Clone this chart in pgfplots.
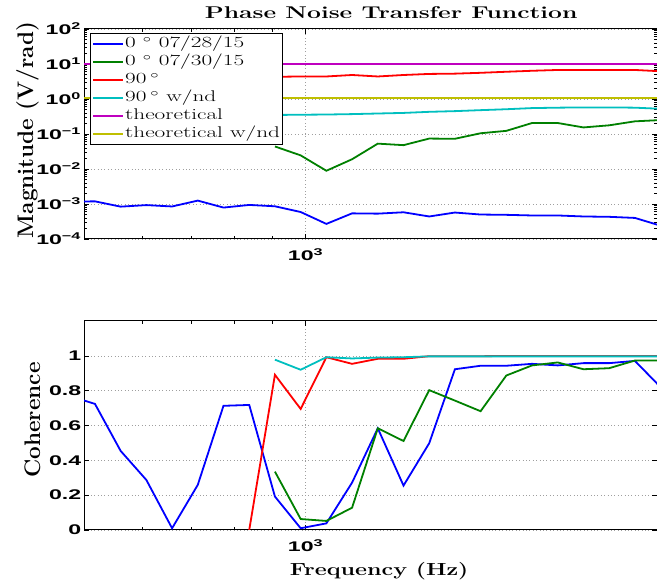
\documentclass[border=0pt]{standalone}
\usepackage{fontspec}
\usepackage{pgfplots}
\pgfplotsset{compat=1.18}
\newfontfamily\tickfont{Liberation Sans}
\definecolor{mblue}{rgb}{0,0,1}
\definecolor{mgreen}{rgb}{0,0.5,0}
\definecolor{mred}{rgb}{1,0,0}
\definecolor{mcyan}{rgb}{0,0.75,0.75}
\definecolor{mmag}{rgb}{0.75,0,0.75}
\definecolor{myel}{rgb}{0.75,0.75,0}

\pgfplotsset{
  mstyle/.style={
    scale only axis, width=573pt,
    xtick={1000}, xticklabels={10\textsuperscript{3}},
    minor xtick={600,700,800,900},
    grid=major,
    major grid style={dash pattern=on 0.8pt off 2.6pt, gray!75, line width=0.6pt},
    axis line style={line width=1pt},
    major tick length=5pt, minor tick length=3pt,
    every tick/.style={black, line width=0.6pt},
    every tick label/.append style={font=\tickfont\bfseries\fontsize{14}{14}\selectfont, xscale=1.65, inner sep=1.5pt},
    xticklabel style={yshift=-8pt},
    ylabel style={font=\bfseries\fontsize{22.5}{22.5}\selectfont, anchor=base},
  }
}

\begin{document}
\begin{tikzpicture}
\useasboundingbox (0,0) rectangle (657pt,586pt);

% magnitude
\begin{axis}[
  xmode=log, ymode=log, xmin=500, xmax=3000, ymin=1e-4, ymax=1e2,
  mstyle,
  at={(84pt,347pt)}, anchor=south west, height=210pt,
  ytick={1e-4,1e-3,1e-2,1e-1,1,1e1,1e2},
  yticklabels={10\textsuperscript{−4},10\textsuperscript{−3},10\textsuperscript{−2},10\textsuperscript{−1},10\textsuperscript{0},10\textsuperscript{1},10\textsuperscript{2}},
  title={Phase Noise Transfer Function},
  every axis title shift=0pt,
  title style={font=\bfseries\fontsize{17}{17}\selectfont, xscale=1.45, at={(axis description cs:0.536,1.05)}, anchor=base},
  ylabel={Magnitude (V/rad)},
  ylabel style={at={(axis description cs:-0.089,0.519)}},
  legend style={at={(axis description cs:0.0105,0.981)}, anchor=north west,
    draw=black, line width=0.9pt, fill=white, inner xsep=2pt, inner ysep=2.6pt,
    row sep=2.4pt, font=\fontsize{15.5}{15.5}\selectfont,
    nodes={xscale=1.5, inner sep=0.6pt, text height=10.8pt, text depth=3.6pt}},
  legend cell align=left,
  legend image code/.code={\draw[#1, line width=1.8pt] (0pt,0pt) -- (30pt,0pt);},
]
\addplot[mblue, line width=1.8pt] coordinates {
(477.5,1.17e-3) (517.4,1.19e-3) (560.7,8.4e-4) (607.7,9.3e-4) (658.5,8.5e-4)
(713.7,1.25e-3) (773.4,7.9e-4) (838.2,9.4e-4) (908.3,8.6e-4) (984.4,5.9e-4)
(1066.8,2.7e-4) (1156.1,5.4e-4) (1252.9,5.3e-4) (1357.8,5.8e-4) (1471.4,4.4e-4)
(1594.6,5.7e-4) (1728.1,5.0e-4) (1872.8,4.9e-4) (2029.6,4.7e-4) (2199.5,4.7e-4)
(2383.6,4.4e-4) (2583.2,4.3e-4) (2799.5,4.0e-4) (3033.8,2.4e-4)
};
\addplot[mgreen, line width=1.8pt] coordinates {
(908.3,0.044) (984.4,0.0245) (1066.8,0.0089) (1156.1,0.019) (1252.9,0.053)
(1357.8,0.048) (1471.4,0.074) (1594.6,0.073) (1728.1,0.105) (1872.8,0.123)
(2029.6,0.206) (2199.5,0.206) (2383.6,0.154) (2583.2,0.177) (2799.5,0.23)
(3033.8,0.25)
};
\addplot[mred, line width=1.8pt] coordinates {
(838.2,4.2) (908.3,4.3) (984.4,4.4) (1066.8,4.4) (1156.1,4.85) (1252.9,4.4)
(1357.8,4.85) (1471.4,5.2) (1594.6,5.3) (1728.1,5.6) (1872.8,6.0) (2029.6,6.4)
(2199.5,6.75) (2383.6,6.75) (2583.2,6.75) (2799.5,6.75) (3033.8,6.2)
};
\addplot[mcyan, line width=1.8pt] coordinates {
(908.3,0.35) (984.4,0.355) (1066.8,0.36) (1156.1,0.37) (1252.9,0.385)
(1357.8,0.40) (1471.4,0.43) (1594.6,0.45) (1728.1,0.48) (1872.8,0.51)
(2029.6,0.55) (2199.5,0.565) (2383.6,0.575) (2583.2,0.575) (2799.5,0.565)
(3033.8,0.525)
};
\addplot[mmag, line width=1.8pt] coordinates {(477.5,10) (3033.8,10)};
\addplot[myel, line width=1.8pt] coordinates {(477.5,1.08) (3033.8,1.08)};
\legend{0 $^\circ$ 07/28/15, 0 $^\circ$ 07/30/15, 90\,$^\circ$, 90\,$^\circ$ w/nd, theoretical, theoretical w/nd}
\end{axis}

% coherence
\begin{axis}[
  xmode=log, xmin=500, xmax=3000, ymin=0, ymax=1.2,
  mstyle,
  at={(84pt,56pt)}, anchor=south west, height=209pt,
  ytick={0,0.2,0.4,0.6,0.8,1},
  yticklabels={0,0.2,0.4,0.6,0.8,1},
  xlabel={Frequency (Hz)},
  xlabel style={font=\bfseries\fontsize{17.5}{17.5}\selectfont, xscale=1.33, at={(axis description cs:0.515,-0.219)}, anchor=base},
  ylabel={Coherence},
  ylabel style={at={(axis description cs:-0.0768,0.526)}},
]
\addplot[mblue, line width=1.8pt] coordinates {
(477.5,0.77) (517.4,0.724) (560.7,0.454) (607.7,0.287) (658.5,0.01)
(713.7,0.259) (773.4,0.713) (838.2,0.718) (908.3,0.192) (984.4,0.01)
(1066.8,0.038) (1156.1,0.272) (1252.9,0.584) (1357.8,0.255) (1471.4,0.498)
(1594.6,0.923) (1728.1,0.943) (1872.8,0.943) (2029.6,0.954) (2199.5,0.945)
(2383.6,0.958) (2583.2,0.958) (2799.5,0.971) (3033.8,0.82)
};
\addplot[mgreen, line width=1.8pt] coordinates {
(908.3,0.335) (984.4,0.063) (1066.8,0.052) (1156.1,0.128) (1252.9,0.584)
(1357.8,0.511) (1471.4,0.803) (1594.6,0.743) (1728.1,0.682) (1872.8,0.887)
(2029.6,0.945) (2199.5,0.962) (2383.6,0.923) (2583.2,0.929) (2799.5,0.973)
(3033.8,0.973)
};
\addplot[mred, line width=1.8pt] coordinates {
(838.2,0) (908.3,0.891) (984.4,0.695) (1066.8,0.992) (1156.1,0.954)
(1252.9,0.983) (1357.8,0.983) (1471.4,0.998) (1594.6,0.998) (1728.1,0.998)
(1872.8,0.999) (2029.6,0.999) (2199.5,0.999) (2383.6,0.999) (2583.2,0.999)
(2799.5,0.999) (3033.8,0.999)
};
\addplot[mcyan, line width=1.8pt] coordinates {
(908.3,0.978) (984.4,0.92) (1066.8,0.992) (1156.1,0.985) (1252.9,0.99)
(1357.8,0.992) (1471.4,0.997) (1594.6,0.997) (1728.1,0.997) (1872.8,0.997)
(2029.6,0.997) (2199.5,0.997) (2383.6,0.997) (2583.2,0.997) (2799.5,0.997)
(3033.8,0.997)
};
\end{axis}
\end{tikzpicture}
\end{document}
